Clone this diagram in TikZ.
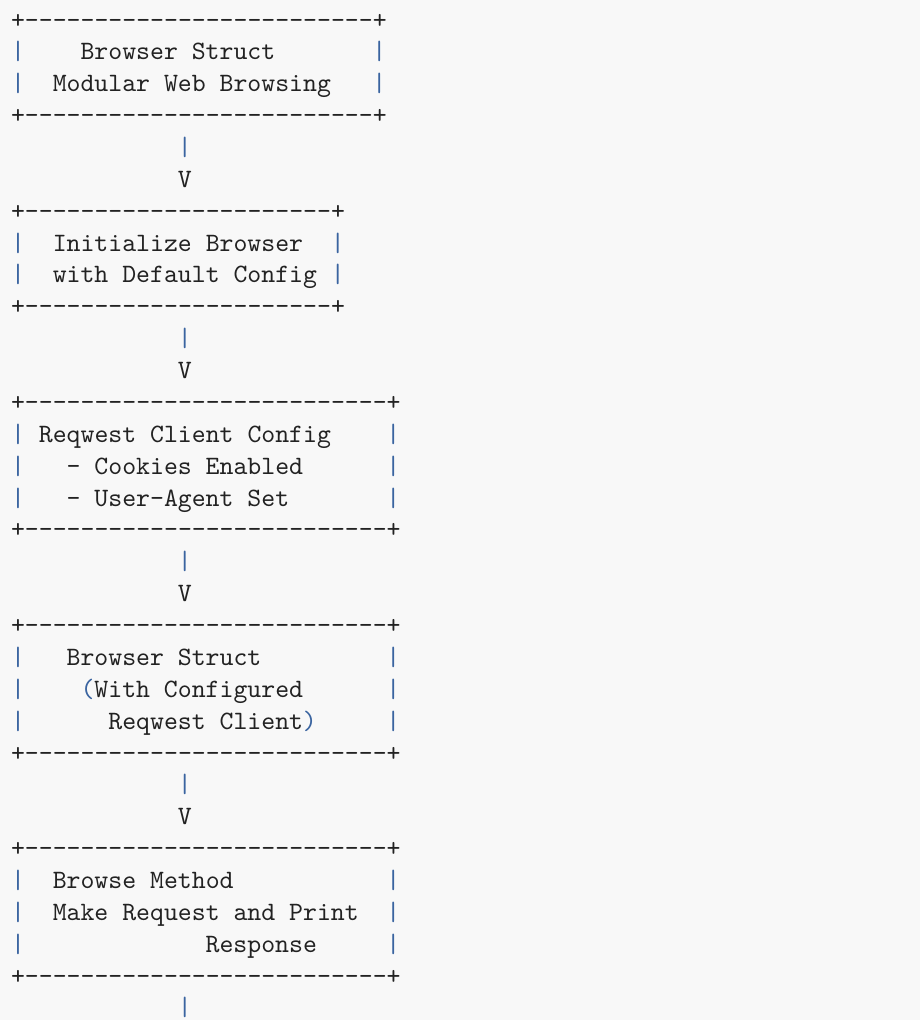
\documentclass[tikz,border=0pt]{standalone}
\usepackage{fontspec}
\newfontfamily\asciifont{lmmono10-regular.otf}
\definecolor{codebg}{HTML}{F8F8F8}
\definecolor{ink}{HTML}{222222}
\definecolor{barblue}{HTML}{3A64A0}

\begin{document}
\begin{tikzpicture}[x=13.9pt,y=-31.87pt,
	txt/.style={anchor=base west,inner sep=0pt,outer sep=0pt,text=ink,
		font=\asciifont\fontsize{26.5pt}{31.87pt}\selectfont},
	bar/.style={txt,text=barblue}]
	\useasboundingbox (-11.05pt,28pt) rectangle ++(920pt,-1020pt);
	\fill[codebg] (-11.05pt,28pt) rectangle ++(920pt,-1020pt);

	% Browser Struct
	\node[txt] (bstop) at (0,0) {+-------------------------+};
	\node[txt] (bsname) at (5,1) {Browser Struct};
	\node[txt] (bsinfo) at (3,2) {Modular Web Browsing};
	\node[txt] (bsbot) at (0,3) {+-------------------------+};
	\foreach \r in {1,2} {\node[bar] (bsl\r) at (0,\r) {|}; \node[bar] (bsr\r) at (26,\r) {|};}

	% Initialize Browser
	\node[txt] (intop) at (0,6) {+----------------------+};
	\node[txt] (inname) at (3,7) {Initialize Browser};
	\node[txt] (ininfo) at (3,8) {with Default Config};
	\node[txt] (inbot) at (0,9) {+----------------------+};
	\foreach \r in {7,8} {\node[bar] (inl\r) at (0,\r) {|}; \node[bar] (inr\r) at (23,\r) {|};}

	% Reqwest Client Config
	\node[txt] (rctop) at (0,12) {+--------------------------+};
	\node[txt] (rcname) at (2,13) {Reqwest Client Config};
	\node[txt] (rccook) at (4,14) {- Cookies Enabled};
	\node[txt] (rcagent) at (4,15) {- User-Agent Set};
	\node[txt] (rcbot) at (0,16) {+--------------------------+};
	\foreach \r in {13,14,15} {\node[bar] (rcl\r) at (0,\r) {|}; \node[bar] (rcr\r) at (27,\r) {|};}

	% Browser Struct with client
	\node[txt] (cstop) at (0,19) {+--------------------------+};
	\node[txt] (csname) at (4,20) {Browser Struct};
	\node[bar] (csopen) at (5,21) {(};
	\node[txt] (csinfo) at (6,21) {With Configured};
	\node[txt] (csclient) at (7,22) {Reqwest Client};
	\node[bar] (csclose) at (21,22) {)};
	\node[txt] (csbot) at (0,23) {+--------------------------+};
	\foreach \r in {20,21,22} {\node[bar] (csl\r) at (0,\r) {|}; \node[bar] (csr\r) at (27,\r) {|};}

	% Browse Method
	\node[txt] (bmtop) at (0,26) {+--------------------------+};
	\node[txt] (bmname) at (3,27) {Browse Method};
	\node[txt] (bminfo) at (3,28) {Make Request and Print};
	\node[txt] (bmresp) at (14,29) {Response};
	\node[txt] (bmbot) at (0,30) {+--------------------------+};
	\foreach \r in {27,28,29} {\node[bar] (bml\r) at (0,\r) {|}; \node[bar] (bmr\r) at (27,\r) {|};}

	% arrows between boxes
	\foreach \r/\n in {4/1,10/2,17/3,24/4,31/5} \node[bar] (stem\n) at (12,\r) {|};
	\foreach \r/\n in {5/1,11/2,18/3,25/4} \node[txt] (head\n) at (12,\r) {V};
\end{tikzpicture}
\end{document}
